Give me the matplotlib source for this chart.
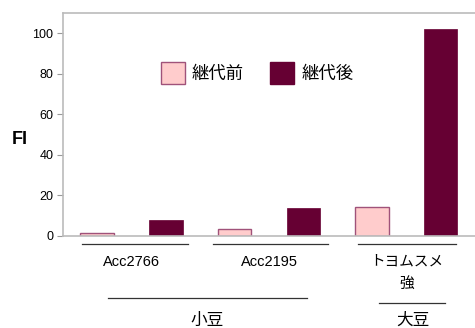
import matplotlib
matplotlib.use("Agg")
import matplotlib.pyplot as plt
import matplotlib.transforms as mtransforms
from matplotlib.lines import Line2D
from matplotlib.patches import Patch
import numpy as np

plt.rcParams['font.family'] = ['Liberation Sans', 'Noto Sans CJK JP', 'DejaVu Sans']

# FI values per line, before and after passaging
varieties = ["Acc2766", "Acc2195", "トヨムスメ\n強"]
before = [1.5, 3.5, 14.5]
after = [8, 14, 102]
series_names = ["継代前", "継代後"]
species = ["小豆", "大豆"]
y_ticks = [0, 20, 40, 60, 80, 100]

fig = plt.figure(figsize=(4.75, 3.28), dpi=100)
ax = fig.add_axes([0.1326, 0.2805, 0.8674, 0.68])

x = np.arange(len(varieties))
w = 0.245
ax.bar(x - 0.25, before, width=w, color="#ffcccc", edgecolor="#a0527a", linewidth=1.0)
ax.bar(x + 0.25, after, width=w, color="#660033", edgecolor="#660033", linewidth=0.5)

ax.set_xlim(-0.5, 2.5)
ax.set_ylim(0, 110)
ax.set_yticks(y_ticks)
ax.set_yticklabels([str(v) for v in y_ticks], fontsize=9)
ax.set_xticks([])
ax.tick_params(axis="y", length=4, width=0.8, color="#999999", pad=3)
for side in ["left", "top", "bottom"]:
    ax.spines[side].set_color("#bbbbbb")
    ax.spines[side].set_linewidth(1.2)
ax.spines["right"].set_visible(False)

fig.text(0.042, 0.575, "FI", fontsize=13, fontweight="bold", ha="center", va="center")

# category labels and brackets below the axis
trans = mtransforms.blended_transform_factory(ax.transData, ax.transAxes)
group_spans = [(-0.36, 0.41), (0.59, 1.43), (1.65, 2.36)]
for (x0, x1), name, xc in zip(group_spans, varieties, x):
    ax.add_line(Line2D([x0, x1], [-0.036, -0.036], transform=trans, color="#333333",
                       linewidth=0.9, clip_on=False))
    ax.text(xc, -0.085, name, transform=trans, ha="center", va="top", fontsize=10.5,
            linespacing=1.75)

species_spans = [(-0.17, 1.28, -0.278), (1.80, 2.28, -0.300)]
species_x = [0.55, 2.05]
for (x0, x1, yy), name, xs in zip(species_spans, species, species_x):
    ax.add_line(Line2D([x0, x1], [yy, yy], transform=trans, color="#333333",
                       linewidth=0.9, clip_on=False))
    ax.text(xs, -0.345, name, transform=trans, ha="center", va="top", fontsize=12)

handles = [Patch(facecolor="#ffcccc", edgecolor="#a0527a"),
           Patch(facecolor="#660033", edgecolor="#660033")]
ax.legend(handles, series_names, loc="center", bbox_to_anchor=(0.471, 0.731), ncol=2,
          frameon=False, fontsize=12.5, handlelength=1.4, handleheight=1.5,
          columnspacing=1.5, handletextpad=0.4)

fig.savefig("out.png", dpi=100)
